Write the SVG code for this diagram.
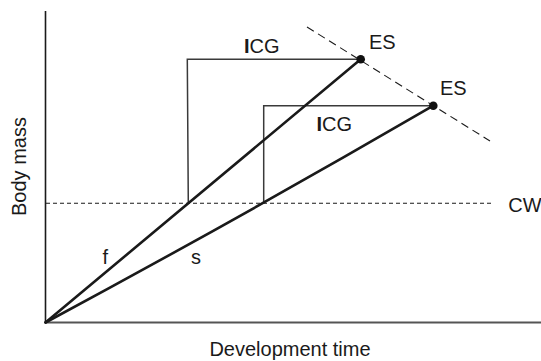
<svg xmlns="http://www.w3.org/2000/svg" width="541" height="361" viewBox="0 0 541 361">
<style>
text{font-family:"Liberation Sans",Arial,sans-serif;fill:#1a1a1a;font-size:20px}
.b{font-weight:bold}
.axis{stroke:#1a1a1a;stroke-width:1.6;fill:none}
.xaxis{stroke:#555;stroke-width:2;fill:none}
.growth{stroke:#1a1a1a;stroke-width:2.6;fill:none;stroke-linecap:round}
.icg{stroke:#3a3a3a;stroke-width:1.5;fill:none}
.cw{stroke:#1a1a1a;stroke-width:1.1;stroke-dasharray:4 3;fill:none}
.es{stroke:#1a1a1a;stroke-width:1.1;stroke-dasharray:8 5;fill:none}
.dot{fill:#111}
</style>
<g id="axes">
<line class="axis" x1="45.5" y1="11" x2="45.5" y2="322.5"/>
<line class="xaxis" x1="45" y1="322.5" x2="541" y2="322.5"/>
<text x="290" y="356" text-anchor="middle" font-size="19.5">Development time</text>
<text transform="translate(25.5,166.5) rotate(-90)" text-anchor="middle">Body mass</text>
</g>
<g id="connectors">
<line class="cw" x1="46" y1="203.3" x2="494" y2="203.3"/>
<line class="es" x1="307" y1="27" x2="490" y2="141"/>
<polyline class="icg" points="188.3,203.3 187.3,59.3 360.7,59.3"/>
<polyline class="icg" points="263.7,203.3 263.7,105.7 433.3,105.7"/>
<line class="growth" x1="45.5" y1="322.5" x2="360.7" y2="59.3"/>
<path class="growth" d="M45.5,322.5 Q241.2,217.3 433.3,105.7"/>
</g>
<g id="es-fast">
<circle class="dot" cx="360.7" cy="59.3" r="4.3"/>
<text x="369" y="48.5">ES</text>
</g>
<g id="es-slow">
<circle class="dot" cx="433.3" cy="105.7" r="4.3"/>
<text x="440" y="95">ES</text>
</g>
<g id="icg-fast"><text x="244" y="52.5"><tspan class="b">I</tspan>CG</text></g>
<g id="icg-slow"><text x="316.5" y="130.5"><tspan class="b">I</tspan>CG</text></g>
<g id="cw-label"><text x="508.3" y="211.5">CW</text></g>
<g id="f-label"><text x="102.5" y="264.3">f</text></g>
<g id="s-label"><text x="191" y="264.3">s</text></g>
</svg>
